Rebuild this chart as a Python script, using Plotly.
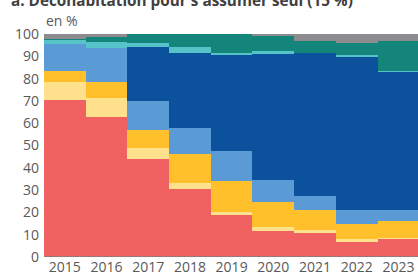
import plotly.graph_objects as go

years = [2015, 2016, 2017, 2018, 2019, 2020, 2021, 2022, 2023]
red = [70.2, 63.0, 43.8, 30.3, 18.8, 11.6, 10.9, 6.7, 8.1]
light_yellow = [8.5, 8.5, 5.2, 2.9, 1.4, 1.8, 1.4, 1.2, 0.4]
orange = [4.6, 7.2, 7.8, 13.1, 13.9, 11.2, 8.9, 7.1, 7.5]
light_blue = [12.3, 14.9, 13.0, 11.5, 13.3, 10.1, 6.1, 5.9, 4.9]
dark_blue = [0, 0, 24.3, 33.8, 43.4, 56.2, 64.1, 68.7, 61.9]
cyan = [1.5, 2.6, 1.8, 2.5, 0.8, 1.3, 0.3, 1.2, 0.8]
teal = [0.7, 2.4, 4.1, 5.9, 8.4, 6.7, 5.1, 5.1, 13.2]
gray = [2.2, 1.4, 0, 0, 0, 1.1, 3.2, 4.1, 3.2]

series = [
    (red, "#F06262"),
    (light_yellow, "#FFE08C"),
    (orange, "#FFC02B"),
    (light_blue, "#5B9BD5"),
    (dark_blue, "#0B519C"),
    (cyan, "#55C3C8"),
    (teal, "#14857A"),
    (gray, "#8C8C8E"),
]

fig = go.Figure()
for vals, col in series:
    fig.add_trace(go.Bar(x=years, y=vals, marker=dict(color=col, line=dict(width=0)),
                         width=1, showlegend=False, hoverinfo="skip"))

fig.update_layout(
    width=418, height=280,
    barmode="stack", bargap=0,
    margin=dict(l=44, r=0, t=33.5, b=23.3),
    paper_bgcolor="white", plot_bgcolor="white",
    font=dict(family="Open Sans", size=14, color="#595959"),
    xaxis=dict(range=[2014.5, 2023.47], tickvals=years, ticktext=[str(y) for y in years],
               showgrid=False, zeroline=False, showline=False, ticks="", fixedrange=True),
    yaxis=dict(range=[0, 100], tickvals=list(range(0, 101, 10)), showgrid=False,
               zeroline=False, showline=False, ticks="", ticklabelstandoff=4, fixedrange=True),
    shapes=[dict(type="line", xref="paper", yref="y", x0=0, x1=1, y0=0, y1=0,
                 line=dict(color="#7f7f7f", width=1.5))],
    annotations=[
        dict(text="<b>a. Décohabitation pour s'assumer seul (15 %)</b>", xref="paper", yref="paper",
             x=-35/374, y=1.154, xanchor="left", yanchor="middle", showarrow=False,
             font=dict(size=15.3, color="#404040")),
        dict(text="en %", xref="paper", yref="paper", x=0, y=1 + 14/223.2,
             xanchor="left", yanchor="middle", showarrow=False,
             font=dict(size=14, color="#595959")),
    ],
)

fig.write_html("out.html", config={"displayModeBar": False, "staticPlot": True})
with open("out.html", "r", encoding="utf-8") as f:
    html = f.read()
html = html.replace("<head>", "<head><style>html,body{margin:0;padding:0;overflow:hidden;}</style>", 1)
with open("out.html", "w", encoding="utf-8") as f:
    f.write(html)
